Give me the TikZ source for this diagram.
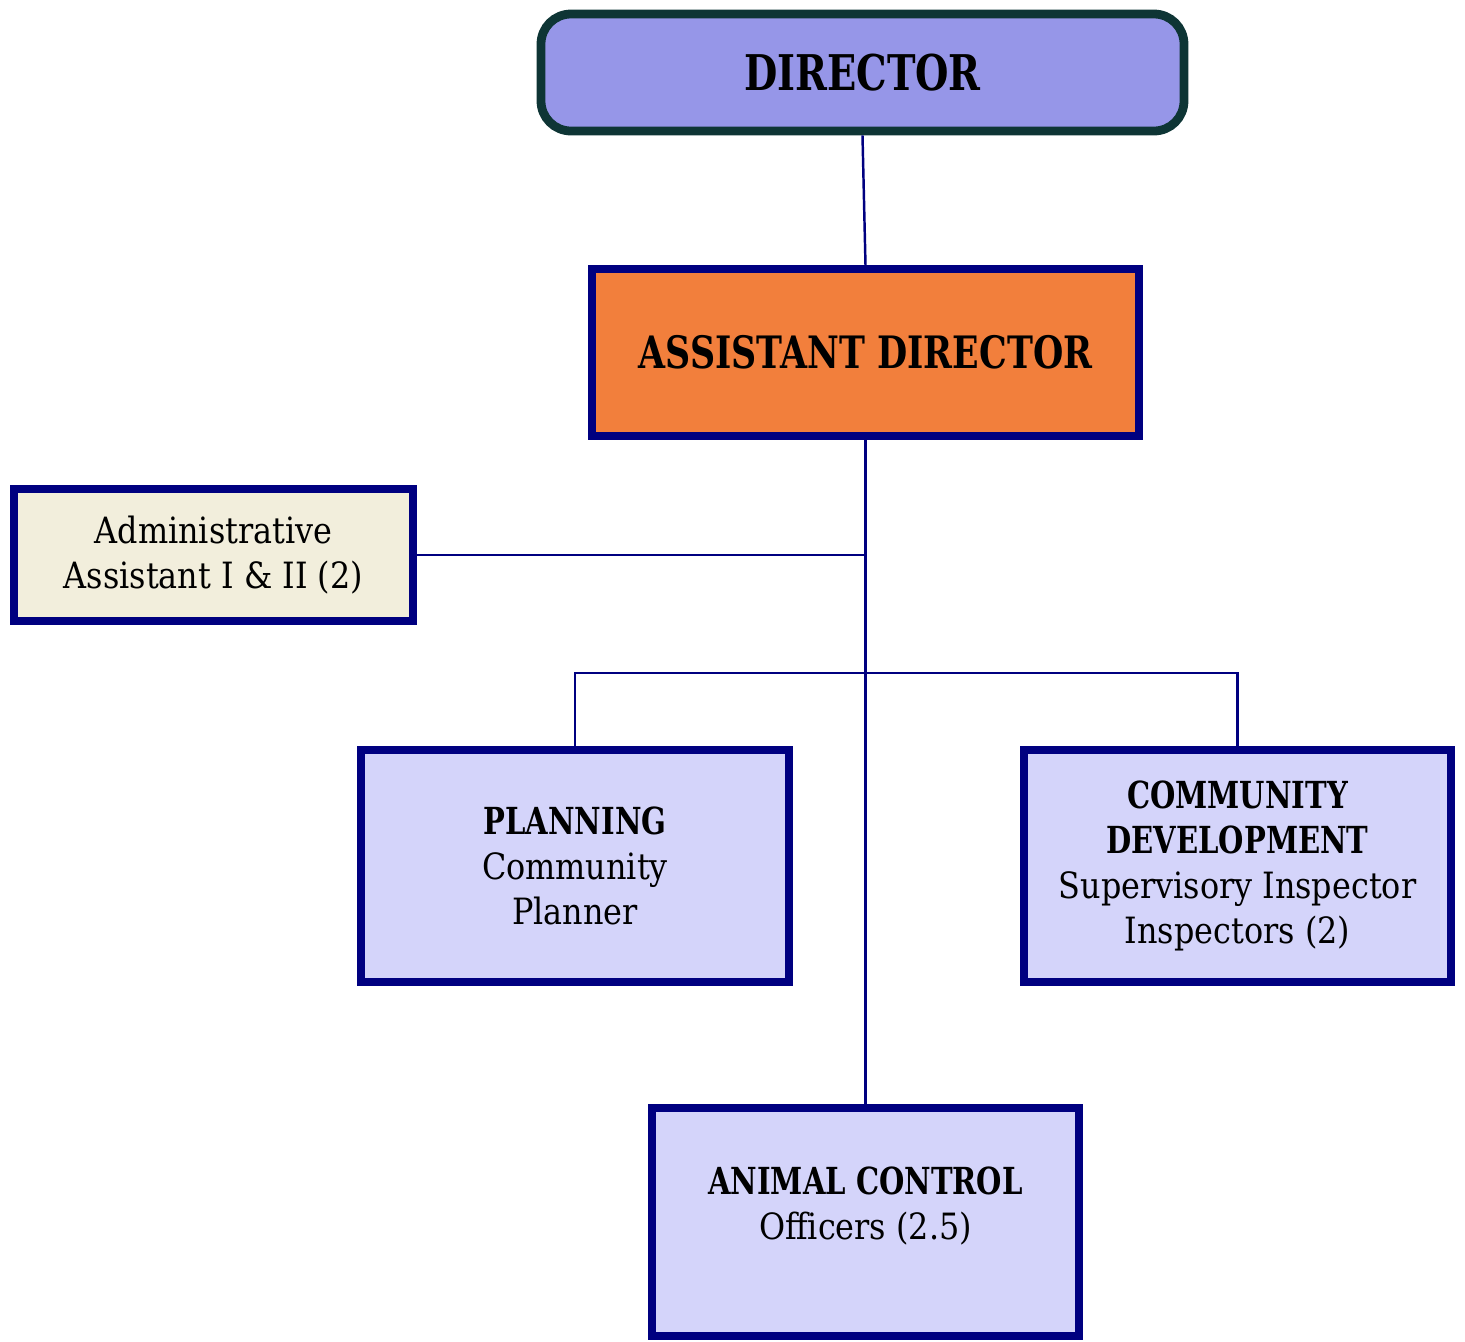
\documentclass[tikz,border=0pt]{standalone}
\usepackage{fontspec}
\setmainfont{DejaVu Serif}[FakeStretch=0.88]
\newfontfamily\headfont{DejaVu Serif}[FakeStretch=0.78]
\usepackage{tikz}

\definecolor{navy}{HTML}{000080}
\definecolor{darkteal}{HTML}{0E3535}
\definecolor{dirblue}{HTML}{9696E8}
\definecolor{asstorange}{HTML}{F27F3C}
\definecolor{unitlav}{HTML}{D4D4FA}
\definecolor{admincream}{HTML}{F2EEDC}

\newcommand{\unithead}[1]{{\headfont\bfseries\fontsize{10.6}{12.8}\selectfont #1}}

\begin{document}
\begin{tikzpicture}[x=1cm, y=1cm,
  box/.style={draw=navy, line width=2.3pt, align=center, inner sep=0pt,
    font=\fontsize{10.3}{12.8}\selectfont},
  unit/.style={box, fill=unitlav, minimum width=4.28cm, minimum height=2.32cm},
  link/.style={navy, line width=0.7pt}]
\useasboundingbox (0,0) rectangle (14.65,-13.42);

\node[box, draw=darkteal, fill=dirblue, rounded corners=0.3cm, line width=2.5pt,
  minimum width=6.43cm, minimum height=1.17cm,
  font=\headfont\bfseries\fontsize{14}{17}\selectfont] (dir) at (8.625,-0.725) {DIRECTOR};
\node[box, fill=asstorange, minimum width=5.47cm, minimum height=1.67cm,
  font=\headfont\bfseries\fontsize{12.7}{15}\selectfont] (asst) at (8.655,-3.525) {ASSISTANT DIRECTOR};
\node[box, fill=admincream, minimum width=3.99cm, minimum height=1.32cm] (admin)
  at (2.135,-5.55) {Administrative\\Assistant I \& II (2)};
\node[unit] (plan) at (5.75,-8.66) {\unithead{PLANNING}\\Community\\Planner};
\node[unit, minimum width=4.27cm] (cd) at (12.375,-8.66)
  {\unithead{COMMUNITY}\\\unithead{DEVELOPMENT}\\Supervisory Inspector\\Inspectors (2)};
\node[unit, minimum width=4.27cm, minimum height=2.28cm] (animal) at (8.655,-12.22)
  {\unithead{ANIMAL CONTROL}\\Officers (2.5)\\[-0.2cm]\strut};

%connectors
\coordinate (bus) at (8.655,-6.73);
\draw[link] (dir.south) -- (asst.north);
\draw[link] (asst.south) -- (animal.north);
\draw[link] (admin.east) -- (admin.east -| asst.south);
\draw[link] (plan.north) |- (bus) -| (cd.north);
\end{tikzpicture}
\end{document}
